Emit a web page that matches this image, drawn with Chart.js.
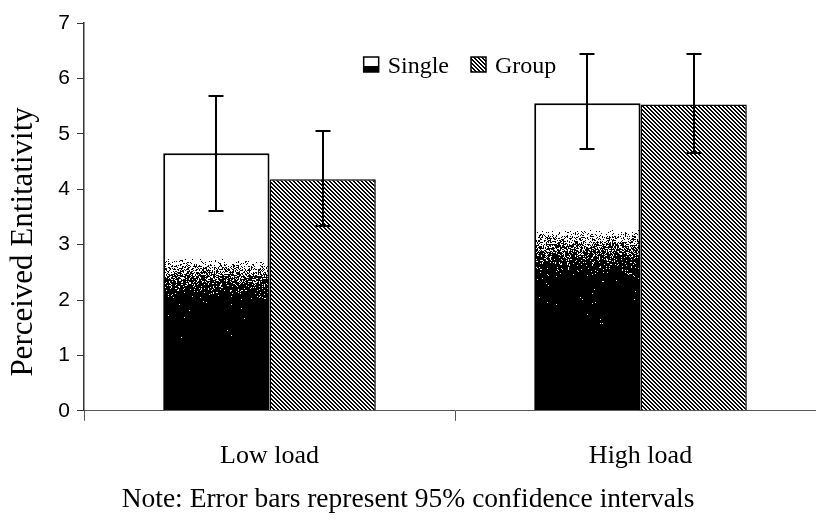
<!DOCTYPE html>
<html>
<head>
<meta charset="utf-8">
<script src="https://cdn.jsdelivr.net/npm/chart.js@4.4.1/dist/chart.umd.min.js"></script>
<style>
  html, body { margin: 0; padding: 0; background: #fff; overflow: hidden; }
  #wrap { position: relative; width: 816px; height: 523px; overflow: hidden; }
  #note { position: absolute; left: 0; width: 816px; top: 482px; text-align: center;
          font: 27.5px "Liberation Serif", "Times New Roman", serif; color: #000; white-space: nowrap; }
</style>
</head>
<body>
<div id="wrap">
  <canvas id="entChart" width="840" height="523"></canvas>
  <div id="note">Note: Error bars represent 95% confidence intervals</div>
</div>
<script>
var loads = ['Low load', 'High load'];
var seriesNames = ['Single', 'Group'];
var yTitle = 'Perceived Entitativity';
var singleMeans = [4.65, 5.55];
var singleLow = [3.60, 4.72];
var singleHigh = [5.68, 6.44];
var groupMeans = [4.18, 5.53];
var groupLow = [3.33, 4.65];
var groupHigh = [5.05, 6.44];
var yTicks = [0, 1, 2, 3, 4, 5, 6, 7];

// diagonal "\" stripes, 2px black / 2px white
function hatchCanvas() {
  var c = document.createElement('canvas');
  c.width = 4; c.height = 4;
  var g = c.getContext('2d');
  g.fillStyle = '#fff'; g.fillRect(0, 0, 4, 4);
  g.fillStyle = '#000';
  for (var y = 0; y < 4; y++)
    for (var x = 0; x < 4; x++)
      if ((((x - y) % 4) + 4) % 4 < 2) g.fillRect(x, y, 1, 1);
  return c;
}
var hatch = document.getElementById('entChart').getContext('2d').createPattern(hatchCanvas(), 'repeat');

// integer hash -> [0,1), used for the speckled shading
function noise(x, y) {
  var h = (Math.imul(x, 374761393) + Math.imul(y, 668265263)) | 0;
  h = Math.imul(h ^ (h >>> 13), 1274126177);
  h = h ^ (h >>> 16);
  return (h >>> 0) / 4294967296;
}

// white top fading to black through a speckled band
function shadeDensity(f) {
  if (f < 0.41) return 0;
  var t = Math.min(1, (f - 0.41) / 0.18);
  var p = 1 - Math.pow(1 - t, 2.2);
  return f < 0.72 ? Math.min(p, 0.996) : 1;
}

function drawShade(ctx, bar, bw) {
  var left = Math.round(bar.x - bar.width / 2 + bw);
  var right = Math.round(bar.x + bar.width / 2 - bw / 2);
  var top = Math.round(bar.y + bw);
  var bottom = Math.round(bar.base);
  var w = right - left, h = bottom - top, full = bar.base - bar.y;
  if (w <= 0 || h <= 0) return;
  var off = document.createElement('canvas');
  off.width = w; off.height = h;
  var g = off.getContext('2d');
  var img = g.createImageData(w, h);
  for (var r = 0; r < h; r++) {
    var p = shadeDensity((top + r - bar.y) / full);
    if (!p) continue;
    for (var c = 0; c < w; c++) {
      if (noise(left + c, top + r) < p) img.data[(r * w + c) * 4 + 3] = 255;
    }
  }
  g.putImageData(img, 0, 0);
  ctx.drawImage(off, left, top);
}

var singleShade = {
  id: 'singleShade',
  afterDatasetDraw: function (chart, args) {
    if (args.index !== 0) return;
    args.meta.data.forEach(function (bar) { drawShade(chart.ctx, bar, 2); });
  }
};

var errorBars = {
  id: 'errorBars',
  afterDatasetsDraw: function (chart) {
    var ctx = chart.ctx, ys = chart.scales.y;
    var ranges = [[singleLow, singleHigh], [groupLow, groupHigh]];
    ctx.save();
    ctx.strokeStyle = '#000';
    ctx.lineWidth = 2;
    ranges.forEach(function (rg, d) {
      chart.getDatasetMeta(d).data.forEach(function (bar, i) {
        var x = Math.round(bar.x);
        var lo = Math.round(ys.getPixelForValue(rg[0][i]));
        var hi = Math.round(ys.getPixelForValue(rg[1][i]));
        ctx.beginPath();
        ctx.moveTo(x, lo); ctx.lineTo(x, hi);
        ctx.moveTo(x - 7.5, lo); ctx.lineTo(x + 7.5, lo);
        ctx.moveTo(x - 7.5, hi); ctx.lineTo(x + 7.5, hi);
        ctx.stroke();
      });
    });
    ctx.restore();
  }
};

// legend sits inside the plot, near the top; y title sits a little below centre
var insideLegend = {
  id: 'insideLegend',
  afterDraw: function (chart) {
    var ctx = chart.ctx, area = chart.chartArea;
    var icon = 15, gap = 9, spacing = 22;
    ctx.save();
    ctx.font = '24px "Liberation Serif"';
    var widths = seriesNames.map(function (t) { return ctx.measureText(t).width; });
    var total = widths.reduce(function (a, w) { return a + icon + gap + w; }, 0) + spacing;
    var x = (area.left + area.right) / 2 - total / 2 + 5;
    var top = area.top + 34;
    seriesNames.forEach(function (name, i) {
      ctx.fillStyle = i === 0 ? '#fff' : hatch;
      ctx.fillRect(x, top, icon, icon);
      if (i === 0) {
        ctx.fillStyle = '#000';
        ctx.fillRect(x, top + icon * 0.6, icon, icon * 0.4);
      }
      ctx.strokeStyle = '#000';
      ctx.lineWidth = 1.5;
      ctx.strokeRect(x, top, icon, icon);
      ctx.fillStyle = '#000';
      ctx.textBaseline = 'alphabetic';
      ctx.fillText(name, x + icon + gap, top + 15.5);
      x += icon + gap + widths[i] + spacing;
    });

    ctx.translate(24, (area.top + area.bottom) / 2 + 25);
    ctx.rotate(-Math.PI / 2);
    ctx.font = '31px "Liberation Serif"';
    ctx.textAlign = 'center';
    ctx.textBaseline = 'middle';
    ctx.fillText(yTitle, 0, 0);
    ctx.restore();
  }
};

new Chart('entChart', {
  type: 'bar',
  data: {
    labels: loads,
    datasets: [
      { label: seriesNames[0], data: singleMeans, backgroundColor: '#fff', borderColor: '#000', borderWidth: 2 },
      { label: seriesNames[1], data: groupMeans, backgroundColor: hatch, borderColor: '#000', borderWidth: 1.5 }
    ]
  },
  options: {
    responsive: false,
    animation: false,
    datasets: { bar: { categoryPercentage: 0.573, barPercentage: 1 } },
    layout: { padding: { top: 23, left: 6, right: 14, bottom: 31 } },
    plugins: { legend: { display: false }, tooltip: { enabled: false } },
    scales: {
      x: {
        grid: { drawOnChartArea: false, color: '#555', tickLength: 10, offset: true },
        border: { color: '#555', width: 1 },
        ticks: { color: '#000', font: { family: 'Liberation Serif', size: 26 }, padding: 20 }
      },
      y: {
        min: 0, max: 7,
        afterBuildTicks: function (s) { s.ticks = yTicks.map(function (v) { return { value: v }; }); },
        afterFit: function (s) { s.width = 78; },
        grid: { drawOnChartArea: false, color: '#333', tickLength: 7 },
        border: { color: '#333', width: 1.5 },
        ticks: { color: '#000', font: { family: 'Liberation Sans', size: 21 }, padding: 7 },
        title: { display: false }
      }
    }
  },
  plugins: [singleShade, errorBars, insideLegend]
});
</script>
</body>
</html>
